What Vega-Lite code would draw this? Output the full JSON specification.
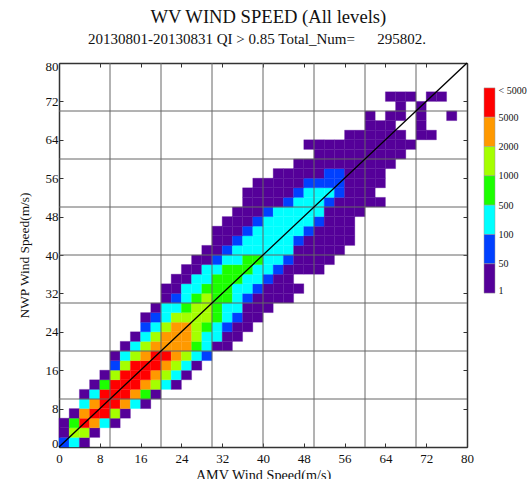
{"$schema":"https://vega.github.io/schema/vega-lite/v6.json","background":"white","padding":{"left":17,"top":8,"right":0,"bottom":0},"spacing":9,"title":{"text":"WV WIND SPEED (All levels)","subtitle":"20130801-20130831 QI > 0.85 Total_Num=\u00a0\u00a0\u00a0\u00a0\u00a0\u00a0295802.\u00a0\u00a0\u00a0\u00a0\u00a0\u00a0\u200b","font":"Liberation Serif","fontSize":18.6,"fontWeight":"normal","color":"#111","subtitleFont":"Liberation Serif","subtitleFontSize":15,"subtitleColor":"#111","anchor":"middle","offset":13,"subtitlePadding":5,"dx":-3.5},"config":{"view":{"stroke":null},"font":"Liberation Serif"},"datasets":{"cells":[
{"x":0,"xe":2,"y":0,"ye":2,"n":50},{"x":2,"xe":4,"y":0,"ye":2,"n":100},{"x":4,"xe":6,"y":0,"ye":2,"n":1},
{"x":0,"xe":2,"y":2,"ye":4,"n":1},{"x":2,"xe":4,"y":2,"ye":4,"n":1000},{"x":4,"xe":6,"y":2,"ye":4,"n":1000},{"x":6,"xe":8,"y":2,"ye":4,"n":1},
{"x":0,"xe":2,"y":4,"ye":6,"n":1},{"x":2,"xe":4,"y":4,"ye":6,"n":500},{"x":4,"xe":6,"y":4,"ye":6,"n":5000},{"x":6,"xe":8,"y":4,"ye":6,"n":2000},{"x":8,"xe":10,"y":4,"ye":6,"n":100},{"x":10,"xe":12,"y":4,"ye":6,"n":1},
{"x":2,"xe":4,"y":6,"ye":8,"n":1},{"x":4,"xe":6,"y":6,"ye":8,"n":2000},{"x":6,"xe":8,"y":6,"ye":8,"n":5000},{"x":8,"xe":10,"y":6,"ye":8,"n":5000},{"x":10,"xe":12,"y":6,"ye":8,"n":1000},{"x":12,"xe":14,"y":6,"ye":8,"n":1},
{"x":4,"xe":6,"y":8,"ye":10,"n":100},{"x":6,"xe":8,"y":8,"ye":10,"n":2000},{"x":8,"xe":10,"y":8,"ye":10,"n":5000},{"x":10,"xe":12,"y":8,"ye":10,"n":5000},{"x":12,"xe":14,"y":8,"ye":10,"n":2000},{"x":14,"xe":16,"y":8,"ye":10,"n":100},{"x":16,"xe":18,"y":8,"ye":10,"n":1},
{"x":4,"xe":6,"y":10,"ye":12,"n":1},{"x":6,"xe":8,"y":10,"ye":12,"n":100},{"x":8,"xe":10,"y":10,"ye":12,"n":5000},{"x":10,"xe":12,"y":10,"ye":12,"n":5000},{"x":12,"xe":14,"y":10,"ye":12,"n":5000},{"x":14,"xe":16,"y":10,"ye":12,"n":2000},{"x":16,"xe":18,"y":10,"ye":12,"n":500},{"x":18,"xe":20,"y":10,"ye":12,"n":1},
{"x":6,"xe":8,"y":12,"ye":14,"n":1},{"x":8,"xe":10,"y":12,"ye":14,"n":500},{"x":10,"xe":12,"y":12,"ye":14,"n":5000},{"x":12,"xe":14,"y":12,"ye":14,"n":5000},{"x":14,"xe":16,"y":12,"ye":14,"n":5000},{"x":16,"xe":18,"y":12,"ye":14,"n":2000},{"x":18,"xe":20,"y":12,"ye":14,"n":1000},{"x":20,"xe":22,"y":12,"ye":14,"n":100},{"x":22,"xe":24,"y":12,"ye":14,"n":1},
{"x":8,"xe":10,"y":14,"ye":16,"n":1},{"x":10,"xe":12,"y":14,"ye":16,"n":1000},{"x":12,"xe":14,"y":14,"ye":16,"n":5000},{"x":14,"xe":16,"y":14,"ye":16,"n":5000},{"x":16,"xe":18,"y":14,"ye":16,"n":5000},{"x":18,"xe":20,"y":14,"ye":16,"n":2000},{"x":20,"xe":22,"y":14,"ye":16,"n":1000},{"x":22,"xe":24,"y":14,"ye":16,"n":100},{"x":24,"xe":26,"y":14,"ye":16,"n":1},
{"x":10,"xe":12,"y":16,"ye":18,"n":50},{"x":12,"xe":14,"y":16,"ye":18,"n":1000},{"x":14,"xe":16,"y":16,"ye":18,"n":5000},{"x":16,"xe":18,"y":16,"ye":18,"n":5000},{"x":18,"xe":20,"y":16,"ye":18,"n":5000},{"x":20,"xe":22,"y":16,"ye":18,"n":2000},{"x":22,"xe":24,"y":16,"ye":18,"n":1000},{"x":24,"xe":26,"y":16,"ye":18,"n":100},{"x":26,"xe":28,"y":16,"ye":18,"n":1},
{"x":10,"xe":12,"y":18,"ye":20,"n":1},{"x":12,"xe":14,"y":18,"ye":20,"n":100},{"x":14,"xe":16,"y":18,"ye":20,"n":1000},{"x":16,"xe":18,"y":18,"ye":20,"n":2000},{"x":18,"xe":20,"y":18,"ye":20,"n":5000},{"x":20,"xe":22,"y":18,"ye":20,"n":5000},{"x":22,"xe":24,"y":18,"ye":20,"n":2000},{"x":24,"xe":26,"y":18,"ye":20,"n":1000},{"x":26,"xe":28,"y":18,"ye":20,"n":100},{"x":28,"xe":30,"y":18,"ye":20,"n":50},
{"x":12,"xe":14,"y":20,"ye":22,"n":1},{"x":14,"xe":16,"y":20,"ye":22,"n":100},{"x":16,"xe":18,"y":20,"ye":22,"n":1000},{"x":18,"xe":20,"y":20,"ye":22,"n":2000},{"x":20,"xe":22,"y":20,"ye":22,"n":2000},{"x":22,"xe":24,"y":20,"ye":22,"n":2000},{"x":24,"xe":26,"y":20,"ye":22,"n":2000},{"x":26,"xe":28,"y":20,"ye":22,"n":500},{"x":28,"xe":30,"y":20,"ye":22,"n":100},{"x":30,"xe":32,"y":20,"ye":22,"n":1},{"x":32,"xe":34,"y":20,"ye":22,"n":1},
{"x":14,"xe":16,"y":22,"ye":24,"n":1},{"x":16,"xe":18,"y":22,"ye":24,"n":100},{"x":18,"xe":20,"y":22,"ye":24,"n":1000},{"x":20,"xe":22,"y":22,"ye":24,"n":2000},{"x":22,"xe":24,"y":22,"ye":24,"n":2000},{"x":24,"xe":26,"y":22,"ye":24,"n":2000},{"x":26,"xe":28,"y":22,"ye":24,"n":1000},{"x":28,"xe":30,"y":22,"ye":24,"n":100},{"x":30,"xe":32,"y":22,"ye":24,"n":100},{"x":32,"xe":34,"y":22,"ye":24,"n":1},{"x":34,"xe":36,"y":22,"ye":24,"n":1},
{"x":16,"xe":18,"y":24,"ye":26,"n":50},{"x":18,"xe":20,"y":24,"ye":26,"n":100},{"x":20,"xe":22,"y":24,"ye":26,"n":1000},{"x":22,"xe":24,"y":24,"ye":26,"n":2000},{"x":24,"xe":26,"y":24,"ye":26,"n":2000},{"x":26,"xe":28,"y":24,"ye":26,"n":1000},{"x":28,"xe":30,"y":24,"ye":26,"n":500},{"x":30,"xe":32,"y":24,"ye":26,"n":100},{"x":32,"xe":34,"y":24,"ye":26,"n":50},{"x":34,"xe":36,"y":24,"ye":26,"n":1},{"x":36,"xe":38,"y":24,"ye":26,"n":1},
{"x":16,"xe":18,"y":26,"ye":28,"n":1},{"x":18,"xe":20,"y":26,"ye":28,"n":50},{"x":20,"xe":22,"y":26,"ye":28,"n":100},{"x":22,"xe":24,"y":26,"ye":28,"n":1000},{"x":24,"xe":26,"y":26,"ye":28,"n":1000},{"x":26,"xe":28,"y":26,"ye":28,"n":1000},{"x":28,"xe":30,"y":26,"ye":28,"n":1000},{"x":30,"xe":32,"y":26,"ye":28,"n":500},{"x":32,"xe":34,"y":26,"ye":28,"n":100},{"x":34,"xe":36,"y":26,"ye":28,"n":50},{"x":36,"xe":38,"y":26,"ye":28,"n":1},{"x":38,"xe":40,"y":26,"ye":28,"n":1},
{"x":18,"xe":20,"y":28,"ye":30,"n":1},{"x":20,"xe":22,"y":28,"ye":30,"n":100},{"x":22,"xe":24,"y":28,"ye":30,"n":100},{"x":24,"xe":26,"y":28,"ye":30,"n":500},{"x":26,"xe":28,"y":28,"ye":30,"n":1000},{"x":28,"xe":30,"y":28,"ye":30,"n":1000},{"x":30,"xe":32,"y":28,"ye":30,"n":500},{"x":32,"xe":34,"y":28,"ye":30,"n":100},{"x":34,"xe":36,"y":28,"ye":30,"n":100},{"x":36,"xe":38,"y":28,"ye":30,"n":1},{"x":38,"xe":40,"y":28,"ye":30,"n":1},{"x":40,"xe":42,"y":28,"ye":30,"n":1},
{"x":20,"xe":22,"y":30,"ye":32,"n":1},{"x":22,"xe":24,"y":30,"ye":32,"n":50},{"x":24,"xe":26,"y":30,"ye":32,"n":100},{"x":26,"xe":28,"y":30,"ye":32,"n":500},{"x":28,"xe":30,"y":30,"ye":32,"n":1000},{"x":30,"xe":32,"y":30,"ye":32,"n":500},{"x":32,"xe":34,"y":30,"ye":32,"n":500},{"x":34,"xe":36,"y":30,"ye":32,"n":100},{"x":36,"xe":38,"y":30,"ye":32,"n":50},{"x":38,"xe":40,"y":30,"ye":32,"n":1},{"x":40,"xe":42,"y":30,"ye":32,"n":1},{"x":42,"xe":44,"y":30,"ye":32,"n":1},{"x":44,"xe":46,"y":30,"ye":32,"n":1},
{"x":20,"xe":22,"y":32,"ye":34,"n":1},{"x":22,"xe":24,"y":32,"ye":34,"n":1},{"x":24,"xe":26,"y":32,"ye":34,"n":100},{"x":26,"xe":28,"y":32,"ye":34,"n":100},{"x":28,"xe":30,"y":32,"ye":34,"n":500},{"x":30,"xe":32,"y":32,"ye":34,"n":500},{"x":32,"xe":34,"y":32,"ye":34,"n":500},{"x":34,"xe":36,"y":32,"ye":34,"n":100},{"x":36,"xe":38,"y":32,"ye":34,"n":100},{"x":38,"xe":40,"y":32,"ye":34,"n":50},{"x":40,"xe":42,"y":32,"ye":34,"n":1},{"x":42,"xe":44,"y":32,"ye":34,"n":1},{"x":44,"xe":46,"y":32,"ye":34,"n":1},{"x":46,"xe":48,"y":32,"ye":34,"n":1},
{"x":22,"xe":24,"y":34,"ye":36,"n":1},{"x":24,"xe":26,"y":34,"ye":36,"n":1},{"x":26,"xe":28,"y":34,"ye":36,"n":100},{"x":28,"xe":30,"y":34,"ye":36,"n":100},{"x":30,"xe":32,"y":34,"ye":36,"n":500},{"x":32,"xe":34,"y":34,"ye":36,"n":500},{"x":34,"xe":36,"y":34,"ye":36,"n":500},{"x":36,"xe":38,"y":34,"ye":36,"n":100},{"x":38,"xe":40,"y":34,"ye":36,"n":100},{"x":40,"xe":42,"y":34,"ye":36,"n":50},{"x":42,"xe":44,"y":34,"ye":36,"n":1},{"x":44,"xe":46,"y":34,"ye":36,"n":1},
{"x":24,"xe":26,"y":36,"ye":38,"n":1},{"x":26,"xe":28,"y":36,"ye":38,"n":1},{"x":28,"xe":30,"y":36,"ye":38,"n":100},{"x":30,"xe":32,"y":36,"ye":38,"n":100},{"x":32,"xe":34,"y":36,"ye":38,"n":500},{"x":34,"xe":36,"y":36,"ye":38,"n":500},{"x":36,"xe":38,"y":36,"ye":38,"n":500},{"x":38,"xe":40,"y":36,"ye":38,"n":100},{"x":40,"xe":42,"y":36,"ye":38,"n":100},{"x":42,"xe":44,"y":36,"ye":38,"n":50},{"x":44,"xe":46,"y":36,"ye":38,"n":1},{"x":46,"xe":48,"y":36,"ye":38,"n":1},{"x":48,"xe":50,"y":36,"ye":38,"n":1},{"x":50,"xe":52,"y":36,"ye":38,"n":1},
{"x":26,"xe":28,"y":38,"ye":40,"n":1},{"x":28,"xe":30,"y":38,"ye":40,"n":1},{"x":30,"xe":32,"y":38,"ye":40,"n":50},{"x":32,"xe":34,"y":38,"ye":40,"n":100},{"x":34,"xe":36,"y":38,"ye":40,"n":100},{"x":36,"xe":38,"y":38,"ye":40,"n":500},{"x":38,"xe":40,"y":38,"ye":40,"n":500},{"x":40,"xe":42,"y":38,"ye":40,"n":100},{"x":42,"xe":44,"y":38,"ye":40,"n":100},{"x":44,"xe":46,"y":38,"ye":40,"n":50},{"x":46,"xe":48,"y":38,"ye":40,"n":1},{"x":48,"xe":50,"y":38,"ye":40,"n":1},{"x":50,"xe":52,"y":38,"ye":40,"n":1},{"x":52,"xe":54,"y":38,"ye":40,"n":1},
{"x":28,"xe":30,"y":40,"ye":42,"n":1},{"x":30,"xe":32,"y":40,"ye":42,"n":1},{"x":32,"xe":34,"y":40,"ye":42,"n":50},{"x":34,"xe":36,"y":40,"ye":42,"n":100},{"x":36,"xe":38,"y":40,"ye":42,"n":100},{"x":38,"xe":40,"y":40,"ye":42,"n":100},{"x":40,"xe":42,"y":40,"ye":42,"n":100},{"x":42,"xe":44,"y":40,"ye":42,"n":100},{"x":44,"xe":46,"y":40,"ye":42,"n":100},{"x":46,"xe":48,"y":40,"ye":42,"n":1},{"x":48,"xe":50,"y":40,"ye":42,"n":1},{"x":50,"xe":52,"y":40,"ye":42,"n":1},{"x":52,"xe":54,"y":40,"ye":42,"n":1},{"x":54,"xe":56,"y":40,"ye":42,"n":1},
{"x":30,"xe":32,"y":42,"ye":44,"n":1},{"x":32,"xe":34,"y":42,"ye":44,"n":1},{"x":34,"xe":36,"y":42,"ye":44,"n":50},{"x":36,"xe":38,"y":42,"ye":44,"n":100},{"x":38,"xe":40,"y":42,"ye":44,"n":100},{"x":40,"xe":42,"y":42,"ye":44,"n":100},{"x":42,"xe":44,"y":42,"ye":44,"n":100},{"x":44,"xe":46,"y":42,"ye":44,"n":100},{"x":46,"xe":48,"y":42,"ye":44,"n":50},{"x":48,"xe":50,"y":42,"ye":44,"n":1},{"x":50,"xe":52,"y":42,"ye":44,"n":1},{"x":52,"xe":54,"y":42,"ye":44,"n":1},{"x":54,"xe":56,"y":42,"ye":44,"n":1},{"x":56,"xe":58,"y":42,"ye":44,"n":1},
{"x":30,"xe":32,"y":44,"ye":46,"n":1},{"x":32,"xe":34,"y":44,"ye":46,"n":1},{"x":34,"xe":36,"y":44,"ye":46,"n":1},{"x":36,"xe":38,"y":44,"ye":46,"n":50},{"x":38,"xe":40,"y":44,"ye":46,"n":100},{"x":40,"xe":42,"y":44,"ye":46,"n":100},{"x":42,"xe":44,"y":44,"ye":46,"n":100},{"x":44,"xe":46,"y":44,"ye":46,"n":100},{"x":46,"xe":48,"y":44,"ye":46,"n":100},{"x":48,"xe":50,"y":44,"ye":46,"n":50},{"x":50,"xe":52,"y":44,"ye":46,"n":1},{"x":52,"xe":54,"y":44,"ye":46,"n":1},{"x":54,"xe":56,"y":44,"ye":46,"n":1},{"x":56,"xe":58,"y":44,"ye":46,"n":1},
{"x":32,"xe":34,"y":46,"ye":48,"n":1},{"x":34,"xe":36,"y":46,"ye":48,"n":1},{"x":36,"xe":38,"y":46,"ye":48,"n":1},{"x":38,"xe":40,"y":46,"ye":48,"n":50},{"x":40,"xe":42,"y":46,"ye":48,"n":100},{"x":42,"xe":44,"y":46,"ye":48,"n":100},{"x":44,"xe":46,"y":46,"ye":48,"n":100},{"x":46,"xe":48,"y":46,"ye":48,"n":100},{"x":48,"xe":50,"y":46,"ye":48,"n":100},{"x":50,"xe":52,"y":46,"ye":48,"n":50},{"x":52,"xe":54,"y":46,"ye":48,"n":1},{"x":54,"xe":56,"y":46,"ye":48,"n":1},{"x":56,"xe":58,"y":46,"ye":48,"n":1},
{"x":34,"xe":36,"y":48,"ye":50,"n":1},{"x":36,"xe":38,"y":48,"ye":50,"n":1},{"x":38,"xe":40,"y":48,"ye":50,"n":1},{"x":40,"xe":42,"y":48,"ye":50,"n":50},{"x":42,"xe":44,"y":48,"ye":50,"n":100},{"x":44,"xe":46,"y":48,"ye":50,"n":100},{"x":46,"xe":48,"y":48,"ye":50,"n":100},{"x":48,"xe":50,"y":48,"ye":50,"n":100},{"x":50,"xe":52,"y":48,"ye":50,"n":100},{"x":52,"xe":54,"y":48,"ye":50,"n":1},{"x":54,"xe":56,"y":48,"ye":50,"n":1},{"x":56,"xe":58,"y":48,"ye":50,"n":1},{"x":58,"xe":60,"y":48,"ye":50,"n":1},
{"x":36,"xe":38,"y":50,"ye":52,"n":1},{"x":38,"xe":40,"y":50,"ye":52,"n":1},{"x":40,"xe":42,"y":50,"ye":52,"n":1},{"x":42,"xe":44,"y":50,"ye":52,"n":1},{"x":44,"xe":46,"y":50,"ye":52,"n":50},{"x":46,"xe":48,"y":50,"ye":52,"n":100},{"x":48,"xe":50,"y":50,"ye":52,"n":100},{"x":50,"xe":52,"y":50,"ye":52,"n":100},{"x":52,"xe":54,"y":50,"ye":52,"n":50},{"x":54,"xe":56,"y":50,"ye":52,"n":1},{"x":56,"xe":58,"y":50,"ye":52,"n":1},{"x":58,"xe":60,"y":50,"ye":52,"n":1},{"x":60,"xe":62,"y":50,"ye":52,"n":1},{"x":62,"xe":64,"y":50,"ye":52,"n":1},
{"x":36,"xe":38,"y":52,"ye":54,"n":1},{"x":38,"xe":40,"y":52,"ye":54,"n":1},{"x":40,"xe":42,"y":52,"ye":54,"n":1},{"x":42,"xe":44,"y":52,"ye":54,"n":1},{"x":44,"xe":46,"y":52,"ye":54,"n":1},{"x":46,"xe":48,"y":52,"ye":54,"n":50},{"x":48,"xe":50,"y":52,"ye":54,"n":100},{"x":50,"xe":52,"y":52,"ye":54,"n":100},{"x":52,"xe":54,"y":52,"ye":54,"n":100},{"x":54,"xe":56,"y":52,"ye":54,"n":50},{"x":56,"xe":58,"y":52,"ye":54,"n":1},{"x":58,"xe":60,"y":52,"ye":54,"n":1},{"x":60,"xe":62,"y":52,"ye":54,"n":1},
{"x":38,"xe":40,"y":54,"ye":56,"n":1},{"x":40,"xe":42,"y":54,"ye":56,"n":1},{"x":42,"xe":44,"y":54,"ye":56,"n":1},{"x":44,"xe":46,"y":54,"ye":56,"n":1},{"x":46,"xe":48,"y":54,"ye":56,"n":1},{"x":48,"xe":50,"y":54,"ye":56,"n":50},{"x":50,"xe":52,"y":54,"ye":56,"n":50},{"x":52,"xe":54,"y":54,"ye":56,"n":50},{"x":54,"xe":56,"y":54,"ye":56,"n":50},{"x":56,"xe":58,"y":54,"ye":56,"n":1},{"x":58,"xe":60,"y":54,"ye":56,"n":1},{"x":60,"xe":62,"y":54,"ye":56,"n":1},{"x":62,"xe":64,"y":54,"ye":56,"n":1},
{"x":42,"xe":44,"y":56,"ye":58,"n":1},{"x":44,"xe":46,"y":56,"ye":58,"n":1},{"x":46,"xe":48,"y":56,"ye":58,"n":1},{"x":48,"xe":50,"y":56,"ye":58,"n":1},{"x":50,"xe":52,"y":56,"ye":58,"n":1},{"x":52,"xe":54,"y":56,"ye":58,"n":50},{"x":54,"xe":56,"y":56,"ye":58,"n":50},{"x":56,"xe":58,"y":56,"ye":58,"n":1},{"x":58,"xe":60,"y":56,"ye":58,"n":1},{"x":60,"xe":62,"y":56,"ye":58,"n":1},{"x":62,"xe":64,"y":56,"ye":58,"n":1},
{"x":46,"xe":48,"y":58,"ye":60,"n":1},{"x":48,"xe":50,"y":58,"ye":60,"n":1},{"x":50,"xe":52,"y":58,"ye":60,"n":1},{"x":52,"xe":54,"y":58,"ye":60,"n":1},{"x":54,"xe":56,"y":58,"ye":60,"n":1},{"x":56,"xe":58,"y":58,"ye":60,"n":1},{"x":58,"xe":60,"y":58,"ye":60,"n":1},{"x":60,"xe":62,"y":58,"ye":60,"n":1},{"x":62,"xe":64,"y":58,"ye":60,"n":1},{"x":64,"xe":66,"y":58,"ye":60,"n":1},
{"x":50,"xe":52,"y":60,"ye":62,"n":1},{"x":52,"xe":54,"y":60,"ye":62,"n":1},{"x":54,"xe":56,"y":60,"ye":62,"n":1},{"x":56,"xe":58,"y":60,"ye":62,"n":1},{"x":58,"xe":60,"y":60,"ye":62,"n":1},{"x":60,"xe":62,"y":60,"ye":62,"n":1},{"x":62,"xe":64,"y":60,"ye":62,"n":1},{"x":64,"xe":66,"y":60,"ye":62,"n":1},{"x":66,"xe":68,"y":60,"ye":62,"n":1},
{"x":48,"xe":50,"y":62,"ye":64,"n":1},{"x":50,"xe":52,"y":62,"ye":64,"n":1},{"x":52,"xe":54,"y":62,"ye":64,"n":1},{"x":54,"xe":56,"y":62,"ye":64,"n":1},{"x":56,"xe":58,"y":62,"ye":64,"n":1},{"x":58,"xe":60,"y":62,"ye":64,"n":1},{"x":60,"xe":62,"y":62,"ye":64,"n":1},{"x":62,"xe":64,"y":62,"ye":64,"n":1},{"x":64,"xe":66,"y":62,"ye":64,"n":1},{"x":66,"xe":68,"y":62,"ye":64,"n":1},{"x":68,"xe":70,"y":62,"ye":64,"n":1},
{"x":56,"xe":58,"y":64,"ye":66,"n":1},{"x":58,"xe":60,"y":64,"ye":66,"n":1},{"x":60,"xe":62,"y":64,"ye":66,"n":1},{"x":62,"xe":64,"y":64,"ye":66,"n":1},{"x":64,"xe":66,"y":64,"ye":66,"n":1},{"x":66,"xe":68,"y":64,"ye":66,"n":1},{"x":70,"xe":72,"y":64,"ye":66,"n":1},{"x":72,"xe":74,"y":64,"ye":66,"n":1},
{"x":60,"xe":62,"y":66,"ye":68,"n":1},{"x":62,"xe":64,"y":66,"ye":68,"n":1},{"x":64,"xe":66,"y":66,"ye":68,"n":1},{"x":70,"xe":72,"y":66,"ye":68,"n":1},
{"x":60,"xe":62,"y":68,"ye":70,"n":1},{"x":64,"xe":66,"y":68,"ye":70,"n":1},{"x":66,"xe":68,"y":68,"ye":70,"n":1},{"x":70,"xe":72,"y":68,"ye":70,"n":1},{"x":76,"xe":78,"y":68,"ye":70,"n":1},
{"x":66,"xe":68,"y":70,"ye":72,"n":1},{"x":70,"xe":72,"y":70,"ye":72,"n":1},
{"x":64,"xe":66,"y":72,"ye":74,"n":1},{"x":66,"xe":68,"y":72,"ye":74,"n":1},{"x":68,"xe":70,"y":72,"ye":74,"n":1},{"x":72,"xe":74,"y":72,"ye":74,"n":1},{"x":74,"xe":76,"y":72,"ye":74,"n":1}
],"keyBlocks":[{"lo":6,"hi":7,"n":5000},{"lo":5,"hi":6,"n":2000},{"lo":4,"hi":5,"n":1000},{"lo":3,"hi":4,"n":500},{"lo":2,"hi":3,"n":100},{"lo":1,"hi":2,"n":50},{"lo":0,"hi":1,"n":1}]},
"hconcat":[{"width":408,"height":384,"resolve":{"axis":{"x":"independent","y":"independent"}},"layer":[
{"data":{"name":"cells"},"mark":{"type":"rect","strokeWidth":0.3},"encoding":{"x":{"field":"x","type":"quantitative","scale":{"domain":[0,80],"nice":false},"axis":{"orient":"bottom","values":[0,8,16,24,32,40,48,56,64,72,80],"grid":false,"tickSize":-4,"tickColor":"#333","domainColor":"#333","domainWidth":1.5,"labelFont":"Liberation Serif","labelFontSize":13,"labelColor":"#111","labelPadding":9,"labelFlush":false,"title":"AMV Wind Speed(m/s)","titleFont":"Liberation Serif","titleFontSize":14.2,"titleFontWeight":"normal","titleColor":"#111","titlePadding":3}},"x2":{"field":"xe"},"y":{"field":"y","type":"quantitative","scale":{"domain":[0,80],"nice":false},"axis":{"orient":"left","values":[0,8,16,24,32,40,48,56,64,72,80],"grid":false,"tickSize":-4,"tickColor":"#333","domainColor":"#333","domainWidth":1.5,"labelFont":"Liberation Serif","labelFontSize":13,"labelColor":"#111","labelPadding":5,"labelFlush":true,"labelFlushOffset":3,"title":"NWP Wind Speed(m/s)","titleFont":"Liberation Serif","titleFontSize":13.4,"titleFontWeight":"normal","titleColor":"#111","titlePadding":13.5}},"y2":{"field":"ye"},"fill":{"field":"n","type":"ordinal","legend":null,"scale":{"domain":[1,50,100,500,1000,2000,5000],"range":["#550099","#0040ff","#00ffff","#1cff00","#a5ff00","#ff9900","#ff0000"]}},"stroke":{"field":"n","type":"ordinal","legend":null,"scale":{"domain":[1,50,100,500,1000,2000,5000],"range":["#550099","#0040ff","#00ffff","#1cff00","#a5ff00","#ff9900","#ff0000"]}}}},
{"data":{"values":[{"v":10},{"v":20},{"v":30},{"v":40},{"v":50},{"v":60},{"v":70}]},"mark":{"type":"rule","color":"#666","strokeWidth":1},"encoding":{"x":{"field":"v","type":"quantitative","axis":null}}},
{"data":{"values":[{"v":10},{"v":20},{"v":30},{"v":40},{"v":50},{"v":60},{"v":70}]},"mark":{"type":"rule","color":"#666","strokeWidth":1},"encoding":{"y":{"field":"v","type":"quantitative","axis":null}}},
{"data":{"values":[{"a":0,"b":0},{"a":80,"b":80}]},"mark":{"type":"line","color":"#000","strokeWidth":1.3},"encoding":{"x":{"field":"a","type":"quantitative","axis":{"orient":"top","values":[0,8,16,24,32,40,48,56,64,72,80],"grid":false,"labels":false,"title":null,"tickSize":-4,"tickColor":"#333","domainColor":"#333","domainWidth":1.5}},"y":{"field":"b","type":"quantitative","axis":{"orient":"right","values":[0,8,16,24,32,40,48,56,64,72,80],"grid":false,"labels":false,"title":null,"tickSize":-4,"tickColor":"#333","domainColor":"#333","domainWidth":1.5}}}}
]},
{"width":11,"height":384,"data":{"name":"keyBlocks"},"mark":{"type":"rect","strokeWidth":0.5,"stroke":"#999"},"encoding":{"y":{"field":"lo","type":"quantitative","scale":{"domain":[-5.25,7.85],"nice":false,"zero":false},"axis":{"orient":"right","values":[0.1,1,2,3,4,5,6,6.9],"labelExpr":"{'0.1':'1','1':'50','2':'100','3':'500','4':'1000','5':'2000','6':'5000','6.9':'< 5000'}[''+datum.value]","title":null,"domain":false,"ticks":false,"grid":false,"labelFont":"Liberation Serif","labelFontSize":10,"labelColor":"#111","labelPadding":3,"labelFlush":false}},"y2":{"field":"hi"},"fill":{"field":"n","type":"ordinal","legend":null,"scale":{"domain":[1,50,100,500,1000,2000,5000],"range":["#550099","#0040ff","#00ffff","#1cff00","#a5ff00","#ff9900","#ff0000"]}}}}
]}
